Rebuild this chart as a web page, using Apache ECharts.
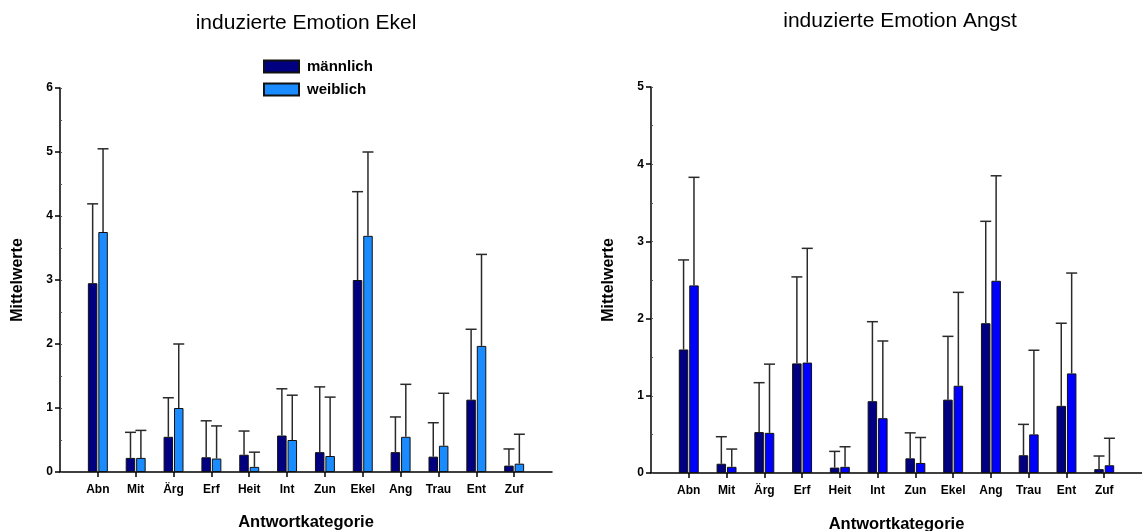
<!DOCTYPE html>
<html>
<head>
<meta charset="utf-8">
<script src="https://cdn.jsdelivr.net/npm/echarts@6/dist/echarts.min.js"></script>
<style>html,body{margin:0;padding:0;background:#fff}#c{width:1142px;height:531px}</style>
</head>
<body>
<div id="c"></div>
<script>
const categories = ['Abn','Mit','Ärg','Erf','Heit','Int','Zun','Ekel','Ang','Trau','Ent','Zuf'];
const ekelTicks = [0,1,2,3,4,5,6];
const angstTicks = [0,1,2,3,4,5];

// induzierte Emotion Ekel: means and upper ends of error bars
const ekelMale        = [2.95,0.22,0.55,0.23,0.27,0.57,0.31,3.00,0.31,0.24,1.13,0.10];
const ekelMaleUpper   = [4.19,0.62,1.16,0.80,0.64,1.30,1.33,4.38,0.86,0.77,2.23,0.36];
const ekelFemale      = [3.75,0.22,1.00,0.21,0.08,0.50,0.25,3.69,0.55,0.41,1.97,0.13];
const ekelFemaleUpper = [5.05,0.65,2.00,0.72,0.31,1.20,1.17,5.00,1.37,1.23,3.40,0.59];

// induzierte Emotion Angst
const angstMale        = [1.60,0.12,0.53,1.42,0.07,0.93,0.19,0.95,1.94,0.23,0.87,0.05];
const angstMaleUpper   = [2.76,0.47,1.17,2.54,0.28,1.96,0.52,1.77,3.26,0.63,1.94,0.22];
const angstFemale      = [2.43,0.08,0.52,1.43,0.08,0.71,0.13,1.13,2.49,0.50,1.29,0.10];
const angstFemaleUpper = [3.83,0.31,1.41,2.91,0.34,1.71,0.46,2.34,3.85,1.59,2.59,0.45];

const FONT = "'Liberation Sans', Arial, sans-serif";
const padded = [''].concat(categories, ['']);
const pad = arr => [null].concat(arr, [null]);
const BW = 9.5, OFF = 5.2;

function xAxisFor(g, gap) {
  return {
    type: 'category', gridIndex: g, data: padded, boundaryGap: false,
    axisLine: {lineStyle: {color: '#000', width: 1.5}},
    axisTick: {interval: (i) => i > 0 && i < padded.length - 1, length: 5, lineStyle: {color: '#000', width: 1.5}},
    axisLabel: {interval: 0, margin: 12, color: '#000', fontFamily: FONT, fontSize: 12, fontWeight: 'bold'},
    name: 'Antwortkategorie', nameLocation: 'middle', nameGap: gap,
    nameTextStyle: {color: '#000', fontFamily: FONT, fontSize: 16.5, fontWeight: 'bold'},
    splitLine: {show: false}
  };
}
function yAxisFor(g, ticks) {
  return {
    type: 'value', gridIndex: g, position: 'left', min: ticks[0], max: ticks[ticks.length - 1], interval: 1,
    axisLine: {show: true, lineStyle: {color: '#000', width: 1.5}},
    axisTick: {show: true, length: 5, lineStyle: {color: '#000', width: 1.5}},
    axisLabel: {margin: 7, color: '#000', fontFamily: FONT, fontSize: 12, fontWeight: 'bold'},
    splitLine: {show: false},
    name: 'Mittelwerte', nameLocation: 'middle', nameGap: 34,
    nameTextStyle: {color: '#000', fontFamily: FONT, fontSize: 16, fontWeight: 'bold'}
  };
}
function minorAxisFor(g, ticks) {
  return {
    type: 'value', gridIndex: g, position: 'left', offset: 0,
    min: ticks[0], max: ticks[ticks.length - 1], interval: 0.5,
    axisLine: {show: false}, axisLabel: {show: false}, splitLine: {show: false},
    axisTick: {show: true, inside: true, length: 2, lineStyle: {color: '#555', width: 1}}
  };
}
function barSeries(name, g, data, color) {
  return {
    type: 'bar', name: name, xAxisIndex: g, yAxisIndex: g, data: pad(data),
    barWidth: BW, barGap: '10%',
    itemStyle: {color: color, borderColor: '#111', borderWidth: 1}
  };
}
function errSeries(g, means, uppers, off) {
  return {
    type: 'custom', xAxisIndex: g, yAxisIndex: g, z: 5, silent: true,
    data: means.map((m, i) => [i + 1, m, uppers[i]]),
    renderItem: function (params, api) {
      const base = api.coord([api.value(0), api.value(1)]);
      const top = api.coord([api.value(0), api.value(2)]);
      const x = base[0] + off;
      const st = {stroke: '#2a2a2a', lineWidth: 1.5};
      return {type: 'group', children: [
        {type: 'line', shape: {x1: x, y1: base[1], x2: x, y2: top[1]}, style: st},
        {type: 'line', shape: {x1: x - 5.5, y1: top[1], x2: x + 5.5, y2: top[1]}, style: st}
      ]};
    }
  };
}

const chart = echarts.init(document.getElementById('c'), null, {renderer: 'canvas'});
chart.setOption({
  animation: false,
  backgroundColor: '#fff',
  title: [
    {text: 'induzierte Emotion Ekel', left: 301, top: 8, textAlign: 'center',
     textStyle: {fontFamily: FONT, fontSize: 21, fontWeight: 'normal', color: '#000'}},
    {text: 'induzierte Emotion Angst', left: 895, top: 6, textAlign: 'center',
     textStyle: {fontFamily: FONT, fontSize: 21, fontWeight: 'normal', color: '#000'}}
  ],
  legend: {
    data: ['männlich', 'weiblich'], orient: 'vertical', left: 263, top: 59, padding: 0,
    itemWidth: 35, itemHeight: 12, itemGap: 8, icon: 'rect',
    textStyle: {fontFamily: FONT, fontSize: 15, fontWeight: 'bold', color: '#000', padding: [0, 0, 0, 3]}
  },
  grid: [
    {left: 60, right: 590, top: 88, bottom: 59, containLabel: false, outerBoundsMode: 'none'},
    {left: 651, right: 0, top: 87, bottom: 58, containLabel: false, outerBoundsMode: 'none'}
  ],
  xAxis: [xAxisFor(0, 42), xAxisFor(1, 43)],
  yAxis: [yAxisFor(0, ekelTicks), yAxisFor(1, angstTicks), minorAxisFor(0, ekelTicks), minorAxisFor(1, angstTicks)],
  series: [
    barSeries('männlich', 0, ekelMale, '#000080'),
    barSeries('weiblich', 0, ekelFemale, '#1a8cff'),
    barSeries('männlich (Angst)', 1, angstMale, '#000080'),
    barSeries('weiblich (Angst)', 1, angstFemale, '#0000ff'),
    errSeries(0, ekelMale, ekelMaleUpper, -OFF),
    errSeries(0, ekelFemale, ekelFemaleUpper, OFF),
    errSeries(1, angstMale, angstMaleUpper, -OFF),
    errSeries(1, angstFemale, angstFemaleUpper, OFF)
  ]
});
</script>
</body>
</html>
